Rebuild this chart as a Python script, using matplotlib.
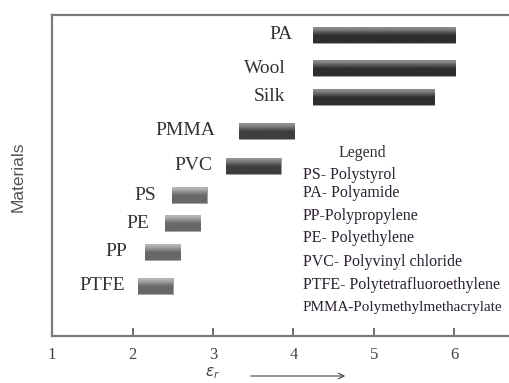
import numpy as np
import matplotlib
matplotlib.use("Agg")
import matplotlib.pyplot as plt

# ranges of relative permittivity per material
materials = ["PTFE", "PP", "PE", "PS", "PVC", "PMMA", "Silk", "Wool", "PA"]
eps_low = [2.07, 2.15, 2.40, 2.49, 3.16, 3.32, 4.24, 4.24, 4.24]
eps_high = [2.50, 2.59, 2.84, 2.92, 3.84, 4.01, 5.75, 6.01, 6.01]
ypos = [1.56, 2.62, 3.52, 4.39, 5.30, 6.39, 7.45, 8.35, 9.38]

legend_lines = [
    "PS- Polystyrol",
    "PA- Polyamide",
    "PP-Polypropylene",
    "PE- Polyethylene",
    "PVC- Polyvinyl chloride",
    "PTFE- Polytetrafluoroethylene",
    "PMMA-Polymethylmethacrylate",
]
xticks = [1, 2, 3, 4, 5, 6]

# gap between label and bar, in pixels
label_pad = [13, 17, 15, 16, 13, 23, 28, 27, 20]

plt.rcParams["font.family"] = ["Liberation Serif", "DejaVu Serif"]

fig = plt.figure(figsize=(5.1, 3.83), dpi=100)
ax = fig.add_axes([0.102, 0.1227, 0.92, 0.838])
ax.set_xlim(1, 6.83)
ax.set_ylim(0, 10)

bar_h = 0.52
for i, name in enumerate(materials):
    if i >= 6:
        base, top = "#2e2e2e", "#8a8a8a"
    elif i >= 4:
        base, top = "#3e3e3e", "#909090"
    else:
        base, top = "#686868", "#b4b4b4"
    bar = ax.barh(ypos[i], eps_high[i] - eps_low[i], left=eps_low[i], height=bar_h,
                  color=base, edgecolor="#a0a0a0", linewidth=0.6, zorder=2)[0]
    # vertical gradient, lighter at the top
    grad = np.linspace(0, 1, 60).reshape(-1, 1)
    cmap = matplotlib.colors.LinearSegmentedColormap.from_list(
        "g", [(0, base), (0.45, base), (0.85, top), (1, top)])
    im = ax.imshow(grad, extent=(eps_low[i], eps_high[i], ypos[i] - bar_h / 2, ypos[i] + bar_h / 2),
                   origin="lower", cmap=cmap, aspect="auto", zorder=3)
    im.set_clip_path(bar)
    ax.annotate(name, (eps_low[i], ypos[i]), xytext=(-label_pad[i], 0), textcoords="offset pixels",
                ha="right", va="center", fontsize=14, color="#333333")

ax.set_aspect("auto")

ax.spines["right"].set_visible(False)
for s in ["top", "bottom", "left"]:
    ax.spines[s].set_color("#7a7a7a")
    ax.spines[s].set_linewidth(1.6)

ax.set_xticks(xticks)
ax.set_xticklabels([str(t) for t in xticks], fontsize=12, color="#444444")
ax.tick_params(axis="x", direction="in", length=6, width=1.2, color="#555555", pad=8)
ax.set_yticks([])

# legend block
fig.text(362 / 510, 1 - 153 / 383, "Legend", ha="center", va="center",
         fontsize=11.5, color="#333333")
rows = [175, 193, 216, 238, 262, 285, 307]
for txt, r in zip(legend_lines, rows):
    size = 10.9 if txt.startswith("PMMA") else 11.5
    fig.text(303 / 510, 1 - r / 383, txt, ha="left", va="center", fontsize=size, color="#2a2030")

fig.text(18 / 510, 1 - 177 / 383, "Materials", rotation=90, ha="center", va="center",
         fontsize=12.5, color="#555555", family=["Liberation Sans Narrow", "Liberation Sans"])
fig.text(213 / 510, 1 - 373 / 383, r"$\varepsilon_r$", ha="center", va="center",
         fontsize=11, color="#444444")
ax.annotate("", xy=(348 / 510, 1 - 376 / 383), xytext=(248 / 510, 1 - 376 / 383),
            xycoords="figure fraction", textcoords="figure fraction",
            arrowprops=dict(arrowstyle="->", color="#444444", lw=0.8))

fig.savefig("out.png", dpi=100)
